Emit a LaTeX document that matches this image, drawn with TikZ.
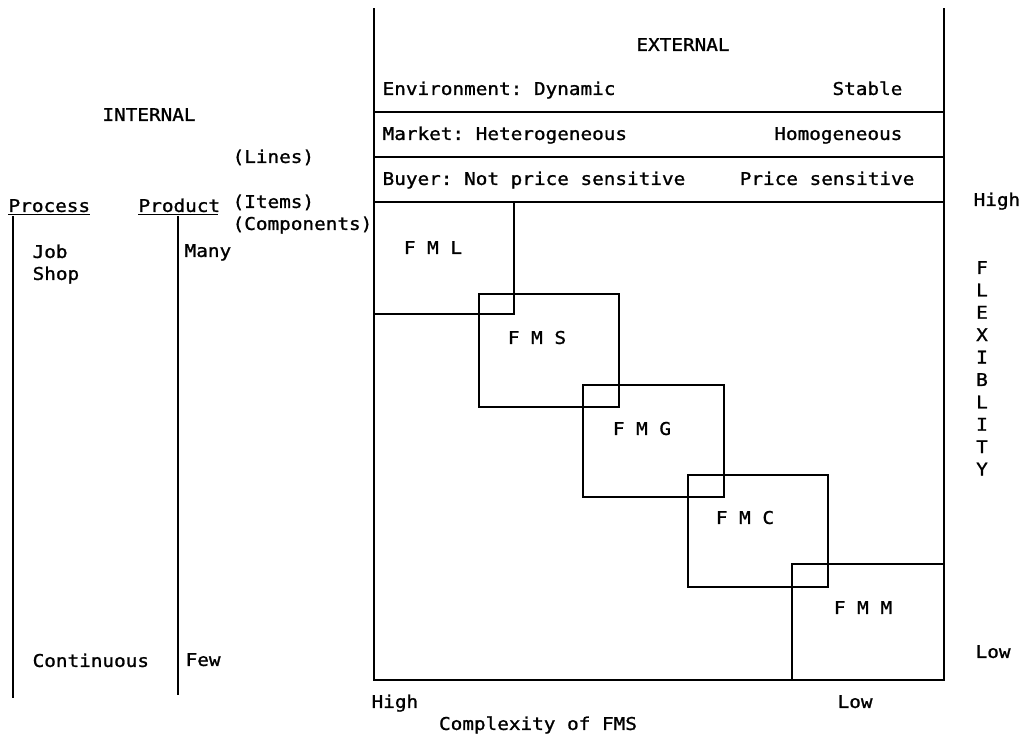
\documentclass[tikz,border=0pt]{standalone}
\usepackage{fontspec}
\setmonofont[FakeStretch=1.1,FakeBold=1.2]{DejaVu Sans Mono}
\begin{document}
\begin{tikzpicture}[x=0.025cm,y=-0.025cm,line width=0.9pt,
    every node/.style={inner sep=0pt,font=\ttfamily\fontsize{12.5}{14}\selectfont,text height=9pt,text depth=2pt},
    lbl/.style={anchor=west},
    rlbl/.style={anchor=east}]
  \useasboundingbox (0,0) rectangle (1027,737);
  \newcommand{\frameleft}{374}
  \newcommand{\frameright}{944}
  % external frame
  \coordinate (tl) at (\frameleft,8);
  \coordinate (tr) at (\frameright,8);
  \coordinate (bl) at (\frameleft,680);
  \coordinate (br) at (\frameright,680);
  \draw (tl) -- (bl) -- (br) -- (tr);
  \draw (\frameleft,112) -- (\frameright,112);
  \draw (\frameleft,157) -- (\frameright,157);
  \draw[line width=2pt] (\frameleft,202) -- (\frameright,202);
  \node (external) at (683,46) {EXTERNAL};
  \node[lbl] (env) at (382,90) {Environment: Dynamic};
  \node[rlbl] (stable) at (903,90) {Stable};
  \node[lbl] (market) at (382,135) {Market: Heterogeneous};
  \node[rlbl] (homog) at (903,135) {Homogeneous};
  \node[lbl] (buyer) at (382,180) {Buyer: Not price sensitive};
  \node[rlbl] (pricesens) at (915,180) {Price sensitive};
  % FMS boxes
  \foreach \name/\xa/\ya/\xb/\yb/\lx/\ly/\txt in {
      fml/374/202/514/314/433/249/{F M L},
      fms/479/294/619/407/537/339/{F M S},
      fmg/583/385/724/497/642/430/{F M G},
      fmc/688/475/828/587/745/519/{F M C},
      fmm/792/564/944/680/863/609/{F M M}}{
    \draw (\xa,\ya) rectangle (\xb,\yb);
    \node (\name) at (\lx,\ly) {\txt};
  }
  % axes
  \node[lbl] (flexhigh) at (973,201) {High};
  \node[lbl] (flexlow) at (975,653) {Low};
  \foreach \c [count=\i from 0] in {F,L,E,X,I,B,L,I,T,Y}
    \node (flex\i) at (982,269+22.4*\i) {\c};
  \node[lbl] (cplxhigh) at (371,703) {High};
  \node[lbl] (cplxlow) at (837,703) {Low};
  \node (complexity) at (538,725) {Complexity of FMS};
  % internal
  \node (internal) at (149,116) {INTERNAL};
  \node[lbl] (lines) at (232,158) {(Lines)};
  \node[lbl] (items) at (232,203) {(Items)};
  \node[lbl] (components) at (232,225) {(Components)};
  \node[lbl] (process) at (8,207) {Process};
  \node[lbl] (product) at (138,207) {Product};
  \coordinate (proctop) at (13,216);
  \coordinate (procbot) at (13,698);
  \coordinate (prodtop) at (178,216);
  \coordinate (prodbot) at (178,695);
  \draw (process.south west) ++(0,-1) -- ++(82,0);
  \draw (product.south west) ++(0,-1) -- ++(80,0);
  \draw (proctop) -- (procbot);
  \draw (prodtop) -- (prodbot);
  \node[lbl] (job) at (32,253) {Job};
  \node[lbl] (shop) at (32,275) {Shop};
  \node[lbl] (many) at (184,252) {Many};
  \node[lbl] (continuous) at (32,662) {Continuous};
  \node[lbl] (few) at (185,661) {Few};
\end{tikzpicture}
\end{document}
